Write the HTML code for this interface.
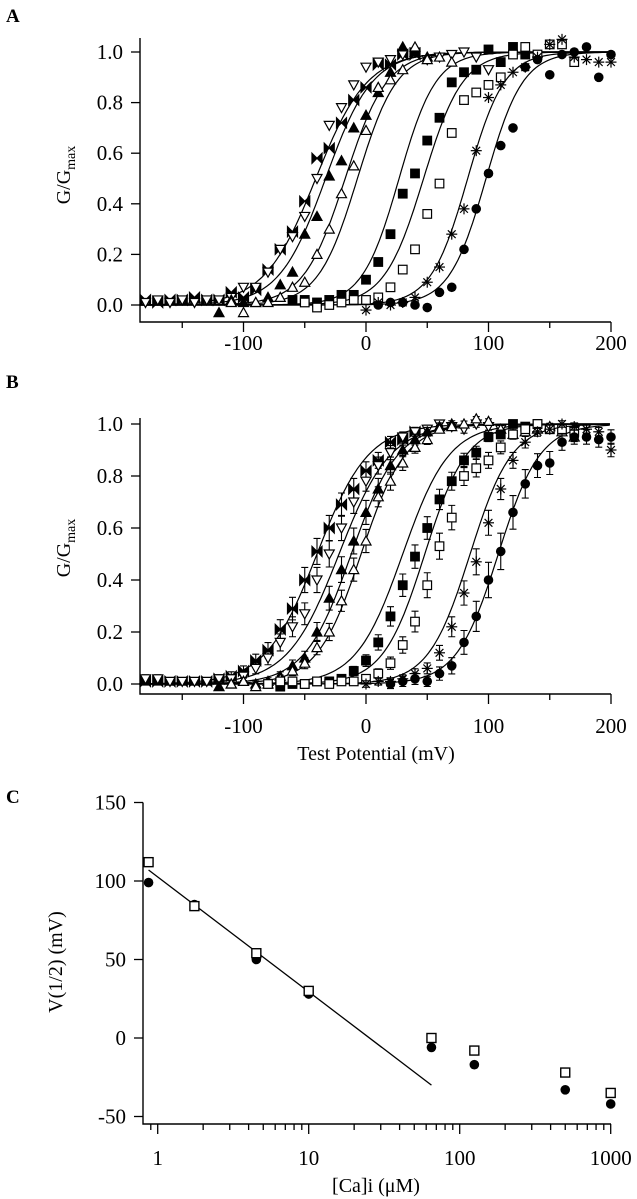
<!DOCTYPE html>
<html><head><meta charset="utf-8">
<style>
html,body{margin:0;padding:0;background:#fff;}
svg{display:block;font-family:"Liberation Serif",serif;}
</style></head>
<body>
<svg id="fig" width="637" height="1199" viewBox="0 0 637 1199" xmlns="http://www.w3.org/2000/svg">
<text x="6" y="22" font-size="19" font-weight="bold">A</text>
<text x="6" y="388" font-size="19" font-weight="bold">B</text>
<text x="6" y="803" font-size="19" font-weight="bold">C</text>
<text transform="translate(70,175) rotate(-90)" text-anchor="middle" font-size="20">G/G<tspan font-size="14" dy="5">max</tspan></text>
<text transform="translate(70,548) rotate(-90)" text-anchor="middle" font-size="20">G/G<tspan font-size="14" dy="5">max</tspan></text>
<text x="376" y="760" text-anchor="middle" font-size="20">Test Potential (mV)</text>
<text transform="translate(62,962) rotate(-90)" text-anchor="middle" font-size="20">V(1/2) (mV)</text>
<text x="376" y="1192" text-anchor="middle" font-size="20">[Ca]i (μM)</text>
<g id="layer"></g>
</svg>
<script>
// ---------- data ----------
const voltages = [-180,-170,-160,-150,-140,-130,-120,-110,-100,-90,-80,-70,-60,-50,-40,-30,-20,-10,0,10,20,30,40,50,60,70,80,90,100,110,120,130,140,150,160,170,180,190,200];
const markerTypes = ['bowtie','downTri','fillTri','openTri','fillSq','openSq','asterisk','circle'];
const N=null;
const aBowtie  = [0.02,0.01,0.02,0.02,0.03,0.02,0.02,0.05,0.03,0.06,0.14,0.22,0.29,0.41,0.58,0.62,0.72,0.81,0.86,0.95,0.95,0.99,0.99,N,N,N,N,N,N,N,N,N,N,N,N,N,N,N,N];
const aDownTri = [0.01,0.02,0.01,0.02,0.01,0.02,0.02,0.03,0.07,0.07,0.13,0.22,0.27,0.35,0.5,0.71,0.78,0.87,0.94,0.96,0.97,0.99,1.0,0.97,0.98,0.99,1.0,0.98,0.93,N,N,N,N,N,N,N,N,N,N];
const aFillTri = [N,N,N,N,N,N,-0.03,0.02,0.01,0.01,0.03,0.08,0.13,0.28,0.35,0.51,0.57,0.7,0.75,0.84,0.92,1.02,1.0,0.98,N,N,N,N,N,N,N,N,N,N,N,N,N,N,N];
const aOpenTri = [N,N,N,N,N,N,N,0.01,-0.03,0.01,0.01,0.03,0.07,0.09,0.2,0.3,0.44,0.55,0.69,0.86,0.89,0.93,1.02,0.97,0.98,0.96,N,N,N,N,N,N,N,N,N,N,N,N,N];
const aFillSq  = [N,N,N,N,N,N,N,N,N,N,N,N,0.02,0.02,0.01,0.02,0.04,0.04,0.1,0.17,0.28,0.44,0.52,0.65,0.74,0.88,0.92,0.93,1.01,0.96,1.02,0.99,N,N,N,N,N,N,N];
const aOpenSq  = [N,N,N,N,N,N,N,N,N,N,N,N,N,0.01,-0.01,0.0,0.01,0.02,0.02,0.03,0.07,0.14,0.22,0.36,0.48,0.68,0.81,0.84,0.87,0.9,0.99,1.02,0.99,1.03,1.03,0.96,N,N,N];
const aAster   = [N,N,N,N,N,N,N,N,N,N,N,N,N,N,N,N,N,N,-0.02,0.01,0.0,0.01,0.03,0.09,0.15,0.28,0.38,0.61,0.82,0.87,0.92,0.94,0.98,1.03,1.05,0.98,0.97,0.96,0.96];
const aCircle  = [N,N,N,N,N,N,N,N,N,N,N,N,N,N,N,N,N,N,N,0.0,0.01,0.01,0.0,-0.01,0.05,0.07,0.22,0.38,0.52,0.63,0.7,0.94,0.97,0.91,0.99,1.0,1.02,0.9,0.99];
const aFitVh = [-41,-33,-17,-7,27,47,83,98];
const aFitK  = [21,19,17,16,15,16,15,15];

const bBowtie  = [0.01,0.01,0.01,0.01,0.01,0.01,0.02,0.03,0.05,0.09,0.13,0.21,0.29,0.4,0.51,0.6,0.69,0.75,0.82,0.86,0.93,0.94,0.97,N,N,N,N,N,N,N,N,N,N,N,N,N,N,N,N];
const bDownTri = [0.02,0.02,0.01,0.01,0.01,0.01,0.02,0.02,0.03,0.06,0.1,0.16,0.22,0.27,0.4,0.5,0.6,0.7,0.78,0.84,0.89,0.95,0.97,0.98,1.0,0.99,0.98,1.0,0.99,0.98,N,N,N,N,N,N,N,N,N];
const bFillTri = [N,N,N,N,N,N,-0.01,0.0,0.01,0.0,0.01,0.03,0.07,0.1,0.2,0.33,0.44,0.55,0.66,0.75,0.84,0.9,0.94,0.97,0.99,1.0,N,N,N,N,N,N,N,N,N,N,N,N,N];
const bOpenTri = [N,N,N,N,N,N,N,0.0,0.01,-0.01,0.0,0.02,0.05,0.08,0.14,0.2,0.32,0.44,0.55,0.72,0.78,0.85,0.91,0.94,0.98,0.99,1.0,1.02,1.01,0.98,0.96,0.97,0.98,0.99,0.97,0.95,N,N,N];
const bFillSq  = [N,N,N,N,N,N,N,N,N,N,N,-0.01,0.0,0.0,0.01,0.01,0.02,0.05,0.09,0.16,0.26,0.38,0.49,0.6,0.71,0.78,0.86,0.89,0.95,0.96,1.0,0.99,1.0,0.98,N,N,N,N,N];
const bOpenSq  = [N,N,N,N,N,N,N,N,N,N,0.0,0.01,0.01,0.0,0.01,0.0,0.01,0.01,0.02,0.04,0.08,0.15,0.24,0.38,0.53,0.64,0.8,0.83,0.86,0.91,0.96,0.98,1.0,0.98,0.98,0.97,N,N,N];
const bAster   = [N,N,N,N,N,N,N,N,N,N,N,N,N,N,N,N,N,N,0.0,0.01,0.01,0.02,0.04,0.06,0.12,0.22,0.35,0.47,0.62,0.75,0.86,0.93,0.97,0.98,1.0,0.99,0.98,0.97,0.9];
const bCircle  = [N,N,N,N,N,N,N,N,N,N,N,N,N,N,N,N,N,N,N,N,0.0,0.01,0.02,0.01,0.04,0.07,0.16,0.26,0.4,0.51,0.66,0.77,0.84,0.85,0.93,0.95,0.95,0.94,0.95];
const bFitVh = [-40,-22,-12,-4,30,48,85,108];
const bFitK  = [21,21,19,18,19,17,17,17];
const bErrSize = [0.05,0.05,0.05,0.045,0.045,0.05,0.05,0.07];

const caConc   = [0.87,1.75,4.5,10,65,125,500,1000];
const v12Sq    = [112,84,54,30,0,-8,-22,-35];
const v12Circ  = [99,85,50,28,-6,-17,-33,-42];
const lineConc = [0.87,65];
const lineV    = [107,-30];

const xTickMV = [-150,-100,-50,0,50,100,150,200];
const xTickLabelsMV = ['-100','0','100','200'];
const yTickG = [0,0.2,0.4,0.6,0.8,1.0];
const yTickLabelsG = ['0.0','0.2','0.4','0.6','0.8','1.0'];
const yTickC = [-50,0,50,100,150];
const yTickLabelsC = ['-50','0','50','100','150'];
const xTickLabelsC = ['1','10','100','1000'];

// ---------- drawing ----------
const NS='http://www.w3.org/2000/svg';
const layer=document.getElementById('layer');
function mk(tag,attrs,parent){const e=document.createElementNS(NS,tag);for(const k in attrs)e.setAttribute(k,attrs[k]);(parent||layer).appendChild(e);return e;}
const XV = v => 366 + 1.225*v;
const YA = g => 305 - 253*g;
const YB = g => 684 - 260*g;
const XC = c => 157.7 + 151*Math.log10(c);
const YC = v => 1038 - 1.57*v;

function marker(type,cx,cy,parent){
  const g=mk('g',{},parent);
  
  
  const r=5, st={stroke:'#000','stroke-width':1.2};
  if(type==='bowtie'){mk('path',Object.assign({d:`M${cx-r},${cy-r}L${cx},${cy}L${cx-r},${cy+r}ZM${cx+r},${cy-r}L${cx},${cy}L${cx+r},${cy+r}Z`,fill:'#000'},st),g);}
  else if(type==='downTri'){mk('path',Object.assign({d:`M${cx-r},${cy-r*0.8}L${cx+r},${cy-r*0.8}L${cx},${cy+r}Z`,fill:'#fff'},st),g);}
  else if(type==='fillTri'){mk('path',Object.assign({d:`M${cx-r},${cy+r*0.8}L${cx+r},${cy+r*0.8}L${cx},${cy-r}Z`,fill:'#000'},st),g);}
  else if(type==='openTri'){mk('path',Object.assign({d:`M${cx-r},${cy+r*0.8}L${cx+r},${cy+r*0.8}L${cx},${cy-r}Z`,fill:'#fff'},st),g);}
  else if(type==='fillSq'){mk('rect',Object.assign({x:cx-4.3,y:cy-4.3,width:8.6,height:8.6,fill:'#000'},st),g);}
  else if(type==='openSq'){mk('rect',Object.assign({x:cx-4.3,y:cy-4.3,width:8.6,height:8.6,fill:'#fff'},st),g);}
  else if(type==='asterisk'){for(let a=0;a<4;a++){const t=a*Math.PI/4;mk('line',Object.assign({x1:cx-5.5*Math.cos(t),y1:cy-5.5*Math.sin(t),x2:cx+5.5*Math.cos(t),y2:cy+5.5*Math.sin(t)},st),g);}}
  else if(type==='circle'){mk('circle',{cx:cx,cy:cy,r:4.8,fill:'#000'},g);}
  return g;
}

function gPanel(name,yFn,axisY,axisTop,seriesList,vhs,ks,withErr,labelsBelow){
  const p=mk('g',{});
  
  
  const ax=mk('path',{d:`M140,${axisTop}L140,${axisY}L611,${axisY}`,fill:'none',stroke:'#000','stroke-width':1.4},p);
  
  
  yTickG.forEach((t,i)=>{
    const y=yFn(t);
    const tk=mk('line',{x1:131,y1:y,x2:140,y2:y,stroke:'#000','stroke-width':1.3},p);
    
    
    const tx=mk('text',{x:123,y:y+7,'text-anchor':'end','font-size':21},p);
    tx.textContent=yTickLabelsG[i];
    
    
  });
  let li=0;
  xTickMV.forEach(t=>{
    const x=XV(t), major=(t%100===0);
    const tk=mk('line',{x1:x,y1:axisY,x2:x,y2:axisY+(major?10:6),stroke:'#000','stroke-width':1.3},p);
    
    
    if(major){
      const tx=mk('text',{x:x,y:axisY+labelsBelow,'text-anchor':'middle','font-size':21},p);
      tx.textContent=xTickLabelsMV[li++];
      
      
    }
  });
  vhs.forEach((vh,s)=>{
    let d='';
    for(let v=-185;v<=200;v+=2){const g=1/(1+Math.exp(-(v-vh)/ks[s]));d+=(d?'L':'M')+XV(v).toFixed(1)+','+yFn(g).toFixed(1);}
    const c=mk('path',{d:d,fill:'none',stroke:'#000','stroke-width':1.2},p);
    
    
  });
  seriesList.forEach((arr,s)=>{
    arr.forEach((g,i)=>{
      if(g===null)return;
      const x=XV(voltages[i]), y=yFn(g);
      if(withErr){
        const e=bErrSize[s]*(0.25+3*g*(1-g))*260;
        const eb=mk('path',{d:`M${x},${y-e}L${x},${y+e}M${x-3.5},${y-e}L${x+3.5},${y-e}M${x-3.5},${y+e}L${x+3.5},${y+e}`,stroke:'#000','stroke-width':1.1,fill:'none'},p);
        
        
      }
      marker(markerTypes[s],x,y,p);
    });
  });
}

gPanel('panel-a-chart',YA,322,38,[aBowtie,aDownTri,aFillTri,aOpenTri,aFillSq,aOpenSq,aAster,aCircle],aFitVh,aFitK,false,28);
gPanel('panel-b-chart',YB,694,418,[bBowtie,bDownTri,bFillTri,bOpenTri,bFillSq,bOpenSq,bAster,bCircle],bFitVh,bFitK,true,39);

(function(){
  const p=mk('g',{});
  
  
  const ax=mk('path',{d:`M143,${YC(150)}L143,1124L611,1124`,fill:'none',stroke:'#000','stroke-width':1.4},p);
  
  
  yTickC.forEach((t,i)=>{
    const y=YC(t);
    const tk=mk('line',{x1:134,y1:y,x2:143,y2:y,stroke:'#000','stroke-width':1.3},p);
    
    
    const tx=mk('text',{x:126,y:y+7,'text-anchor':'end','font-size':21},p);
    tx.textContent=yTickLabelsC[i];
    
    
  });
  let li=0;
  for(let dec=-1;dec<=3;dec++){
    for(let m=1;m<=9;m++){
      const c=m*Math.pow(10,dec);
      if(c<0.85||c>1000)continue;
      const x=XC(c), major=(m===1);
      const tk=mk('line',{x1:x,y1:1124,x2:x,y2:1124+(major?10:6),stroke:'#000','stroke-width':1.3},p);
      
      
      if(major){
        const tx=mk('text',{x:x,y:1165,'text-anchor':'middle','font-size':21},p);
        tx.textContent=xTickLabelsC[li++];
        
        
      }
    }
  }
  const ln=mk('line',{x1:XC(lineConc[0]),y1:YC(lineV[0]),x2:XC(lineConc[1]),y2:YC(lineV[1]),stroke:'#000','stroke-width':1.3},p);
  
  
  caConc.forEach((c,i)=>{
    marker('circle',XC(c),YC(v12Circ[i]),p);
    const r=mk('rect',{x:XC(c)-4.5,y:YC(v12Sq[i])-4.5,width:9,height:9,fill:'#fff',stroke:'#000','stroke-width':1.4},p);
    
    
  });
})();
</script>
</body></html>
